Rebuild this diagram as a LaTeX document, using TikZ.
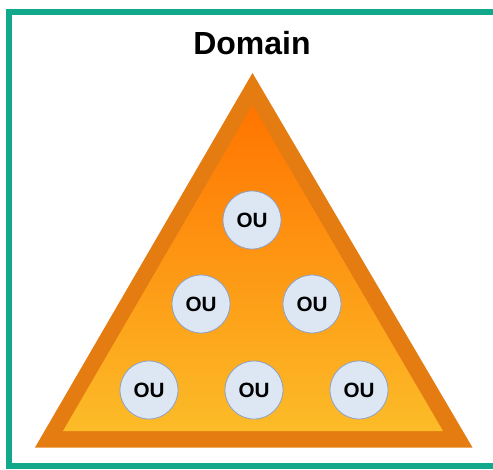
\documentclass[tikz,border=0pt]{standalone}
\usepackage{fontspec}
\setmainfont{Liberation Sans}
\definecolor{domteal}{RGB}{18,168,140}
\definecolor{domband}{RGB}{228,124,18}
\definecolor{domtop}{RGB}{255,116,0}
\definecolor{dommid}{RGB}{255,156,22}
\definecolor{dombot}{RGB}{252,188,40}
\definecolor{oufill}{RGB}{221,231,244}
\definecolor{ouedge}{RGB}{140,160,200}
\usetikzlibrary{positioning}

\begin{document}
\begin{tikzpicture}[
  x=0.75pt,y=-0.75pt,
  ounode/.style={circle,draw=ouedge,line width=0.6pt,fill=oufill,
                 minimum size=43.5pt,inner sep=0pt,
                 font=\fontsize{15.5}{16}\selectfont\bfseries},
  domtitle/.style={anchor=base,inner sep=0pt,font=\fontsize{24}{28}\selectfont\bfseries},
]
  \useasboundingbox (0,0) rectangle (493,469);

  % Frame
  \draw[domteal,line width=4.5pt] (9,12) rectangle (505,465.5);

  % Title
  \node[domtitle] (domain) at (252,54) {Domain};

  % Outer band and inner shaded triangle
  \fill[domband] (252.5,73) -- (472.5,447.5) -- (35,447.5) -- cycle;
  \shade[top color=domtop,middle color=dommid,bottom color=dombot]
    (252.5,105) -- (443,431) -- (63,431) -- cycle;

  % Organizational units
  \node[ounode] (ou1) at (252,220) {OU};
  \node[ounode] (ou2) at (201,304) {OU};
  \node[ounode] (ou3) at (312,304) {OU};
  \node[ounode] (ou4) at (149,390) {OU};
  \node[ounode] (ou5) at (254,390) {OU};
  \node[ounode] (ou6) at (359,390) {OU};
\end{tikzpicture}
\end{document}
